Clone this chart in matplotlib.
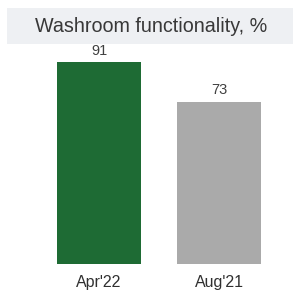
import matplotlib
matplotlib.use("Agg")
import matplotlib.pyplot as plt
from matplotlib.patches import Rectangle

categories = ["Apr'22", "Aug'21"]
values = [91, 73]
colors = ["#1e6b34", "#aaaaaa"]
title = "Washroom functionality, %"

W, H = 293, 292
fig = plt.figure(figsize=(W/100, H/100), dpi=100)
fig.patch.set_facecolor("white")

# title band
fig.patches.append(Rectangle((7/W, (H-44)/H), (W-7)/W, 36/H, transform=fig.transFigure,
                             facecolor="#eef0f3", edgecolor="none", zorder=0))
fig.text(151/W, (H-27)/H, title, ha="center", va="center", fontsize=14.2,
         family="Liberation Sans", color="#383838")

ax = fig.add_axes([39/W, 28/H, 240/W, 222/H])
x = list(range(len(categories)))
bars = ax.bar(x, values, width=0.7, color=colors)
for xi, v in zip(x, values):
    ax.text(xi, v + 2, str(v), ha="center", va="bottom", fontsize=10.5,
            family="Liberation Sans", color="#404040")
ax.set_xlim(-0.5, 1.5)
ax.set_ylim(0, 100)
ax.set_xticks(x)
ax.set_xticklabels(categories, fontsize=11.5, family="Liberation Sans", color="#303030")
ax.tick_params(axis="x", length=0, pad=8)
ax.set_yticks([])
for s in ax.spines.values():
    s.set_visible(False)
ax.patch.set_alpha(0)

fig.savefig("out.png", dpi=100)
